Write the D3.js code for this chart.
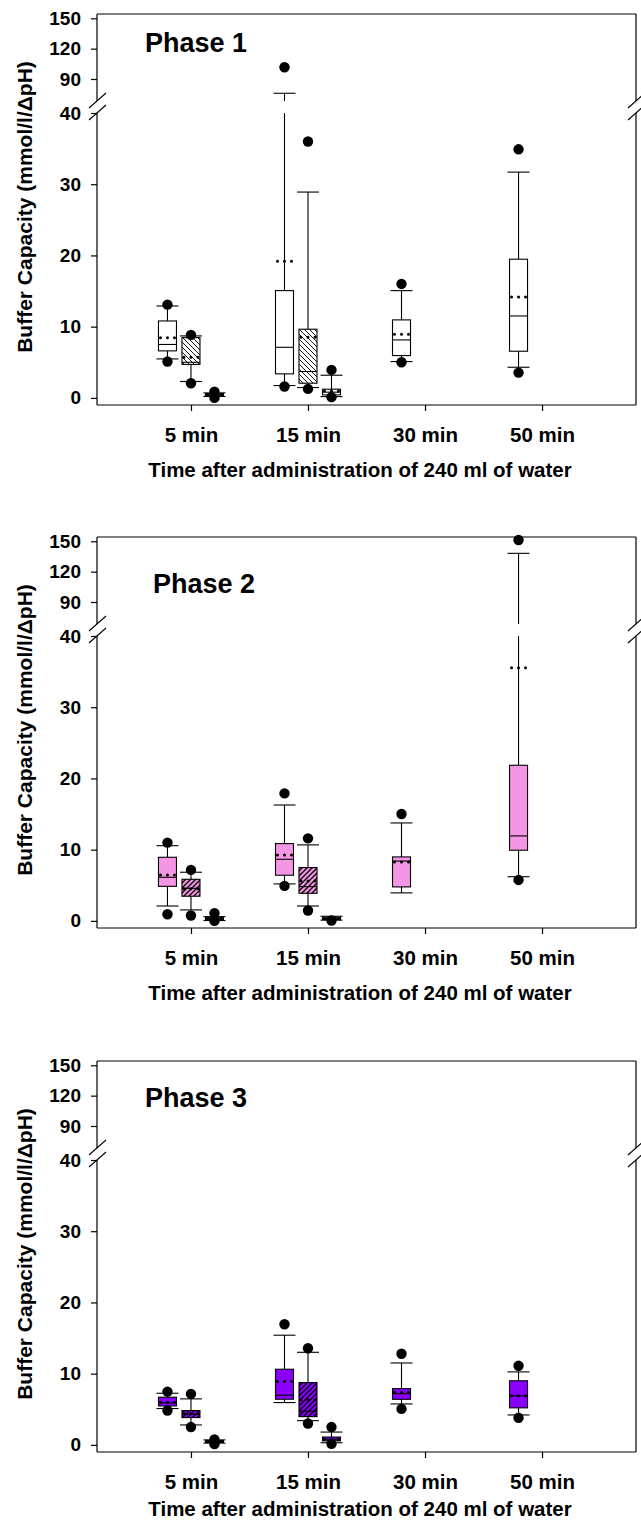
<!DOCTYPE html>
<html><head><meta charset="utf-8">
<script src="https://cdn.jsdelivr.net/npm/d3@7"></script>
<style>
body{margin:0;background:#fff}
text{font-family:"Liberation Sans",Arial,Helvetica,sans-serif;font-weight:bold;fill:#000}
</style>
</head><body>
<svg id="chart" width="641" height="1520"></svg>
<script>
// ---------- data ----------
const categories = ["5 min", "15 min", "30 min", "50 min"];
const phaseNames = ["Phase 1", "Phase 2", "Phase 3"];
const seriesIds = [0, 1, 2];           // 0 = open box, 1 = hatched box, 2 = small box
const yTicksLower = [0, 10, 20, 30, 40];
const yTicksUpper = [90, 120, 150];
const xTitle = "Time after administration of 240 ml of water";
const yTitle = "Buffer Capacity (mmol/l/\u0394pH)";

// box statistics: lo/hi = outlier dots, wl/wh = whisker caps, q1/med/q3 box, mean dotted line
const phase1Boxes = [
  {cat:"5 min",  s:0, lo:5.1,  wl:5.47, q1:6.6,  med:7.5,  q3:10.8,  wh:12.9, hi:13.1,  mean:8.46},
  {cat:"5 min",  s:1, lo:2.06, wl:2.3,  q1:4.7,  med:5.0,  q3:8.46,  wh:8.7,  hi:8.84,  mean:5.7},
  {cat:"5 min",  s:2, lo:0.0,  wl:0.2,  q1:0.3,  med:0.45, q3:0.6,   wh:0.7,  hi:0.88,  mean:0.45},
  {cat:"15 min", s:0, lo:1.6,  wl:1.73, q1:3.37, med:7.1,  q3:15.06, wh:75.9, hi:101.6, mean:19.2},
  {cat:"15 min", s:1, lo:1.26, wl:1.45, q1:2.06, med:3.7,  q3:9.64,  wh:28.9, hi:36.0,  mean:8.5},
  {cat:"15 min", s:2, lo:0.1,  wl:0.18, q1:0.42, med:0.8,  q3:1.22,  wh:3.18, hi:3.93,  mean:0.98},
  {cat:"30 min", s:0, lo:5.0,  wl:5.1,  q1:5.94, med:8.14, q3:10.95, wh:15.06,hi:16.0,  mean:8.94},
  {cat:"50 min", s:0, lo:3.55, wl:4.3,  q1:6.55, med:11.5, q3:19.47, wh:31.7, hi:34.9,  mean:14.18}
];
const phase2Boxes = [
  {cat:"5 min",  s:0, lo:0.93, wl:2.09, q1:4.85, med:6.12, q3:8.93,  wh:10.56, hi:10.99, mean:6.44},
  {cat:"5 min",  s:1, lo:0.75, wl:1.54, q1:3.46, med:4.58, q3:5.84,  wh:6.83,  hi:7.16,  mean:4.5},
  {cat:"5 min",  s:2, lo:0.0,  wl:0.05, q1:0.15, med:0.3,  q3:0.45,  wh:0.6,   hi:1.07,  mean:0.3},
  {cat:"15 min", s:0, lo:4.91, wl:5.19, q1:6.41, med:8.65, q3:10.85, wh:16.27, hi:17.9,  mean:9.26},
  {cat:"15 min", s:1, lo:1.45, wl:2.09, q1:3.87, med:4.81, q3:7.49,  wh:10.67, hi:11.59, mean:5.61},
  {cat:"15 min", s:2, lo:0.05, wl:0.1,  q1:0.2,  med:0.3,  q3:0.5,   wh:0.65,  hi:null,  mean:0.3},
  {cat:"30 min", s:0, lo:null, wl:3.93, q1:4.77, med:8.4,  q3:8.98,  wh:13.75, hi:15.0,  mean:8.28},
  {cat:"50 min", s:0, lo:5.75, wl:6.2,  q1:9.92, med:11.93,q3:21.85, wh:138.1, hi:151.3, mean:35.55}
];
const phase3Boxes = [
  {cat:"5 min",  s:0, lo:4.82, wl:5.1,  q1:5.47, med:5.9,  q3:6.69,  wh:7.25,  hi:7.48,  mean:5.99},
  {cat:"5 min",  s:1, lo:2.5,  wl:2.8,  q1:3.83, med:4.3,  q3:4.82,  wh:6.46,  hi:7.16,  mean:4.4},
  {cat:"5 min",  s:2, lo:0.1,  wl:0.25, q1:0.35, med:0.5,  q3:0.6,   wh:0.7,   hi:0.75,  mean:0.5},
  {cat:"15 min", s:0, lo:null, wl:5.94, q1:6.41, med:6.97, q3:10.62, wh:15.4,  hi:16.94, mean:8.89},
  {cat:"15 min", s:1, lo:3.0,  wl:3.4,  q1:3.97, med:4.73, q3:8.75,  wh:13.0,  hi:13.57, mean:6.32},
  {cat:"15 min", s:2, lo:0.14, wl:0.3,  q1:0.56, med:0.8,  q3:1.1,   wh:1.8,   hi:2.5,   mean:0.8},
  {cat:"30 min", s:0, lo:5.05, wl:5.75, q1:6.4,  med:7.2,  q3:7.9,   wh:11.5,  hi:12.8,  mean:7.4},
  {cat:"50 min", s:0, lo:3.8,  wl:4.2,  q1:5.2,  med:6.9,  q3:9.0,   wh:10.25, hi:11.1,  mean:6.9}
];
const phaseBoxes = [phase1Boxes, phase2Boxes, phase3Boxes];
const phaseColors = ["#ffffff", "#f596e5", "#8a00ff"];

// ---------- layout ----------
const svg = d3.select("#chart");
const W = 641;
const left = 97, right = 636;
const panelOffsets = [0, 523, 1047];
const phaseLabelPos = [[145, 52], [153, 593], [145, 1107]];
const xLabelOffsets = [[442, 477], [442, 477], [442, 469]];

const x = d3.scalePoint().domain(categories).range([left, right]).padding(0.803);
const sOff = d3.scalePoint().domain(seriesIds).range([-23.5, 23.5]);

const defs = svg.append("defs");
function hatch(id, bg, dir) {
  const p = defs.append("pattern").attr("id", id).attr("patternUnits", "userSpaceOnUse")
    .attr("width", 5).attr("height", 5);
  p.append("rect").attr("width", 5).attr("height", 5).attr("fill", bg);
  const d = dir === "back" ? "M0,0 L5,5 M-1,4 L1,6 M4,-1 L6,1" : "M0,5 L5,0 M-1,1 L1,-1 M4,6 L6,4";
  p.append("path").attr("d", d).attr("stroke", "#000").attr("stroke-width", dir === "back" ? 0.9 : 1.3);
}
hatch("h0", phaseColors[0], "back");
hatch("h1", phaseColors[1], "fwd");
hatch("h2", phaseColors[2], "fwd");

phaseBoxes.forEach((boxes, pi) => {
  const oy = panelOffsets[pi];
  const g = svg.append("g");
  const yLow = d3.scaleLinear().domain([-1, 40]).range([405 + oy, 113 + oy]);
  const yUp = d3.scaleLinear().domain([68.25, 154.25]).range([101 + oy, 14 + oy]);
  const yv = v => v <= 40 ? yLow(v) : yUp(Math.max(v, 68.25));
  const top = yUp.range()[1], bottom = yLow.range()[0];
  const gapTop = yUp.range()[0], gapBot = yLow(40);

  // frame with break
  const line = (x1, y1, x2, y2, w) => g.append("line").attr("x1", x1).attr("y1", y1).attr("x2", x2).attr("y2", y2)
      .attr("stroke", "#000").attr("stroke-width", w || 1.2);
  line(left, top, right, top);
  line(left, bottom, right, bottom);
  [left, right].forEach(xx => {
    line(xx, top, xx, gapTop);
    line(xx, gapBot, xx, bottom);
    line(xx - 8, gapTop + 7, xx + 9, gapTop - 8, 1.1);
    line(xx - 8, gapBot + 7, xx + 9, gapBot - 8, 1.1);
  });

  // y axes
  const axL = g.append("g").attr("transform", `translate(${left},0)`)
    .call(d3.axisLeft(yLow).tickValues(yTicksLower).tickSize(6).tickPadding(10));
  const axU = g.append("g").attr("transform", `translate(${left},0)`)
    .call(d3.axisLeft(yUp).tickValues(yTicksUpper).tickSize(6).tickPadding(10));
  [axL, axU].forEach(a => {
    a.select(".domain").remove();
    a.selectAll("line").attr("stroke", "#000").attr("stroke-width", 1.2);
    a.selectAll("text").attr("font-size", 19).attr("font-family", "Liberation Sans, Arial, sans-serif")
      .attr("font-weight", "bold").attr("fill", "#000");
  });

  // x axis
  const axX = g.append("g").attr("transform", `translate(0,${bottom})`)
    .call(d3.axisBottom(x).tickSize(6).tickPadding(0));
  axX.select(".domain").remove();
  axX.selectAll("line").attr("stroke", "#000").attr("stroke-width", 1.2);
  axX.selectAll("text").attr("dy", null).attr("y", xLabelOffsets[pi][0] - 405)
    .attr("font-size", 20.5).attr("font-family", "Liberation Sans, Arial, sans-serif")
    .attr("font-weight", "bold").attr("fill", "#000");

  // titles
  g.append("text").attr("x", 360).attr("y", xLabelOffsets[pi][1] + oy)
    .attr("text-anchor", "middle").attr("font-size", 20.5).text(xTitle);
  g.append("text").attr("transform", `translate(32,${207 + oy}) rotate(-90)`)
    .attr("text-anchor", "middle").attr("font-size", 21).text(yTitle);
  g.append("text").attr("x", phaseLabelPos[pi][0]).attr("y", phaseLabelPos[pi][1])
    .attr("font-size", 27).text(phaseNames[pi]);

  // boxes
  const bw = 18, cw = 22;
  boxes.forEach(b => {
    const cx = x(b.cat) + sOff(b.s);
    const fill = b.s === 1 ? `url(#h${pi})` : phaseColors[pi];
    // whiskers
    line(cx, yv(b.wl), cx, yv(b.q1), 1.1);
    if (b.wh <= 40) {
      line(cx, yv(b.q3), cx, yv(b.wh), 1.1);
    } else {
      line(cx, yv(b.q3), cx, yLow(40), 1.1);
      line(cx, yUp(68.25), cx, yUp(b.wh), 1.1);
    }
    line(cx - cw / 2, yv(b.wl), cx + cw / 2, yv(b.wl), 1.1);
    line(cx - cw / 2, yv(b.wh), cx + cw / 2, yv(b.wh), 1.1);
    // box
    g.append("rect").attr("x", cx - bw / 2).attr("y", yv(b.q3)).attr("width", bw)
      .attr("height", Math.max(1, yv(b.q1) - yv(b.q3)))
      .attr("fill", fill).attr("stroke", "#000").attr("stroke-width", 1.1);
    line(cx - bw / 2, yv(b.med), cx + bw / 2, yv(b.med), 1.1);
    // mean
    g.append("line").attr("x1", cx - 7).attr("x2", cx + 7.01).attr("y1", yv(b.mean)).attr("y2", yv(b.mean))
      .attr("stroke", "#000").attr("stroke-width", 3).attr("stroke-linecap", "round")
      .attr("stroke-dasharray", "0,7");
    // outliers
    [b.lo, b.hi].filter(v => v !== null).forEach(v => {
      g.append("circle").attr("cx", cx).attr("cy", yv(v)).attr("r", 5.2).attr("fill", "#000");
    });
  });
});
</script>
</body></html>
